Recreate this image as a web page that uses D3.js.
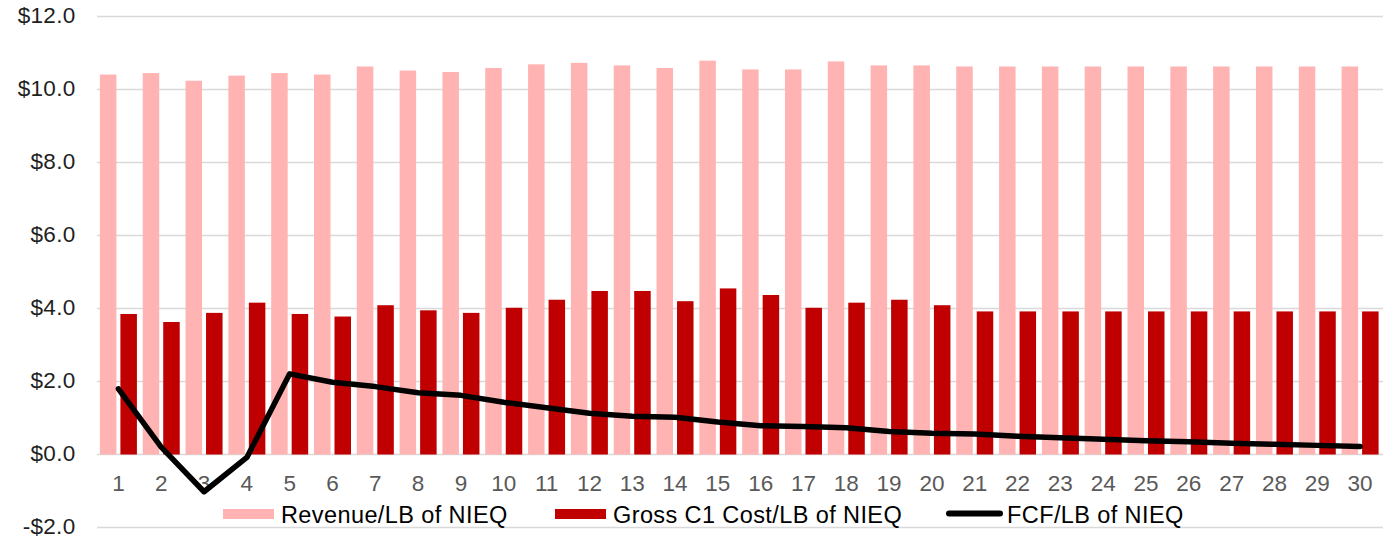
<!DOCTYPE html>
<html>
<head>
<meta charset="utf-8">
<script src="https://cdn.jsdelivr.net/npm/d3@7"></script>
<style>
  html, body { margin: 0; padding: 0; background: #fff; }
  svg { display: block; font-family: "Liberation Sans", Arial, sans-serif; }
</style>
</head>
<body>
<svg id="chart" width="1393" height="539"></svg>
<script>
const categories = d3.range(1, 31).map(String);
const revenue = [10.41, 10.45, 10.24, 10.38, 10.45, 10.41, 10.63, 10.52, 10.48, 10.59,
                 10.69, 10.73, 10.66, 10.59, 10.79, 10.55, 10.55, 10.77, 10.66, 10.66,
                 10.63, 10.63, 10.63, 10.63, 10.63, 10.63, 10.63, 10.63, 10.63, 10.63];
const grossC1 = [3.85, 3.63, 3.88, 4.16, 3.85, 3.78, 4.09, 3.95, 3.88, 4.02,
                 4.24, 4.48, 4.48, 4.20, 4.55, 4.37, 4.02, 4.16, 4.24, 4.09,
                 3.92, 3.92, 3.92, 3.92, 3.92, 3.92, 3.92, 3.92, 3.92, 3.92];
const fcf = [1.80, 0.20, -1.02, -0.08, 2.21, 1.98, 1.86, 1.69, 1.62, 1.43,
             1.28, 1.13, 1.05, 1.02, 0.89, 0.79, 0.77, 0.73, 0.63, 0.58,
             0.56, 0.50, 0.46, 0.42, 0.38, 0.35, 0.31, 0.28, 0.25, 0.22];
const yTicks = [-2, 0, 2, 4, 6, 8, 10, 12];
const seriesNames = ["Revenue/LB of NIEQ", "Gross C1 Cost/LB of NIEQ", "FCF/LB of NIEQ"];
const colors = ["#FFB3B3", "#C00000", "#000000"];

const svg = d3.select("#chart");
const x = d3.scaleBand().domain(categories).range([97, 1381.5]).padding(0);
const groupW = 37;
const x1 = d3.scaleBand().domain([0, 1]).range([0, groupW]).paddingInner(0.195).paddingOuter(0);
const y = d3.scaleLinear().domain([-2, 12]).range([527.5, 16.5]);

const fmt = v => (v < 0 ? "-$" : "$") + Math.abs(v).toFixed(1);

// gridlines
svg.append("g").selectAll("line").data(yTicks).join("line")
  .attr("x1", 97).attr("x2", 1383)
  .attr("y1", d => y(d)).attr("y2", d => y(d))
  .attr("stroke", "#d9d9d9").attr("stroke-width", 1.5);

// y labels
svg.append("g").selectAll("text").data(yTicks).join("text")
  .attr("x", 75.5).attr("y", d => y(d)).attr("dy", "0.3em")
  .attr("text-anchor", "end").attr("font-size", "22.5px").attr("fill", "#1f1f1f")
  .attr("letter-spacing", "0.3px")
  .text(fmt);

// bars
const off = (x.bandwidth() - groupW) / 2;
const seriesData = [revenue, grossC1];
seriesData.forEach((vals, si) => {
  svg.append("g").selectAll("rect").data(vals).join("rect")
    .attr("x", (d, i) => x(categories[i]) + off + x1(si))
    .attr("width", x1.bandwidth())
    .attr("y", d => y(Math.max(0, d)))
    .attr("height", d => Math.abs(y(d) - y(0)))
    .attr("fill", colors[si]);
});

// x labels
svg.append("g").selectAll("text").data(categories).join("text")
  .attr("x", d => x(d) + x.bandwidth() / 2).attr("y", 491)
  .attr("text-anchor", "middle").attr("font-size", "22.5px").attr("fill", "#595959")
  .text(d => d);

// line
const line = d3.line()
  .x((d, i) => x(categories[i]) + x.bandwidth() / 2)
  .y(d => y(d));
svg.append("path").datum(fcf)
  .attr("d", line).attr("fill", "none").attr("stroke", "#000")
  .attr("stroke-width", 5.5).attr("stroke-linejoin", "round").attr("stroke-linecap", "round");

// legend
const legend = svg.append("g");
const lx = [223, 555, 947];
legend.append("rect").attr("x", lx[0]).attr("y", 509).attr("width", 51).attr("height", 10).attr("fill", colors[0]);
legend.append("rect").attr("x", lx[1]).attr("y", 509).attr("width", 51).attr("height", 10).attr("fill", colors[1]);
legend.append("line").attr("x1", lx[2] + 2).attr("x2", lx[2] + 53).attr("y1", 513.5).attr("y2", 513.5)
  .attr("stroke", "#000").attr("stroke-width", 6).attr("stroke-linecap", "round");
[281, 613, 1007].forEach((tx, i) => {
  legend.append("text").attr("x", tx).attr("y", 523)
    .attr("font-size", "23.5px").attr("fill", "#000").attr("letter-spacing", "0.4px")
    .text(seriesNames[i]);
});
</script>
</body>
</html>
